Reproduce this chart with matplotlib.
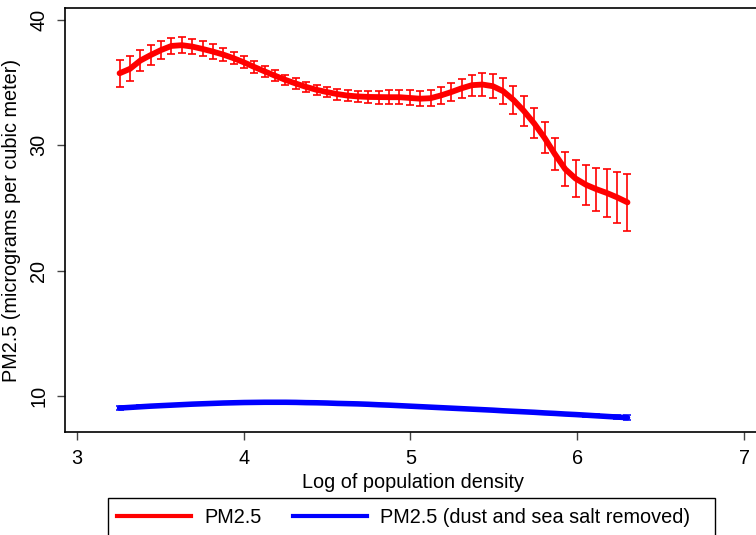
import numpy as np
import matplotlib
matplotlib.use("Agg")
import matplotlib.pyplot as plt
from matplotlib.lines import Line2D
from matplotlib.patches import Rectangle

plt.rcParams['font.family'] = ['Liberation Sans', 'DejaVu Sans']

# log population density grid
log_density = [3.257, 3.319, 3.381, 3.443, 3.505, 3.568, 3.630, 3.692, 3.754, 3.816,
               3.878, 3.940, 4.002, 4.064, 4.126, 4.189, 4.251, 4.313, 4.375, 4.437,
               4.499, 4.561, 4.623, 4.685, 4.747, 4.810, 4.872, 4.934, 4.996, 5.058,
               5.120, 5.182, 5.244, 5.306, 5.368, 5.431, 5.493, 5.555, 5.617, 5.679,
               5.741, 5.803, 5.865, 5.927, 5.989, 6.052, 6.114, 6.176, 6.238, 6.300]

pm25 = [35.75, 36.10, 36.76, 37.20, 37.60, 37.93, 37.99, 37.88, 37.69, 37.48,
        37.24, 36.95, 36.62, 36.25, 35.90, 35.55, 35.22, 34.93, 34.66, 34.43,
        34.25, 34.09, 33.97, 33.90, 33.86, 33.85, 33.84, 33.84, 33.78, 33.72,
        33.76, 33.98, 34.25, 34.55, 34.80, 34.85, 34.72, 34.32, 33.62, 32.75,
        31.75, 30.60, 29.30, 28.10, 27.35, 26.85, 26.50, 26.20, 25.85, 25.45]
pm25_err = [1.06, 1.00, 0.85, 0.77, 0.70, 0.66, 0.65, 0.63, 0.60, 0.58,
            0.55, 0.50, 0.48, 0.46, 0.44, 0.43, 0.42, 0.42, 0.42, 0.42,
            0.43, 0.44, 0.45, 0.47, 0.50, 0.52, 0.55, 0.58, 0.60, 0.62,
            0.65, 0.68, 0.72, 0.78, 0.85, 0.92, 0.98, 1.04, 1.12, 1.18,
            1.20, 1.25, 1.30, 1.38, 1.48, 1.58, 1.70, 1.88, 2.05, 2.30]

pm25_clean = [9.04, 9.09, 9.14, 9.19, 9.23, 9.27, 9.31, 9.35, 9.38, 9.41,
              9.44, 9.46, 9.48, 9.49, 9.50, 9.50, 9.50, 9.49, 9.47, 9.46,
              9.44, 9.41, 9.39, 9.37, 9.34, 9.30, 9.27, 9.23, 9.19, 9.15,
              9.11, 9.07, 9.03, 8.99, 8.95, 8.91, 8.87, 8.82, 8.78, 8.74,
              8.70, 8.65, 8.61, 8.56, 8.52, 8.47, 8.42, 8.37, 8.32, 8.27]
pm25_clean_err = [0.18, 0.14, 0.11, 0.09, 0.08, 0.07, 0.06, 0.06, 0.06, 0.06,
                  0.06, 0.06, 0.06, 0.06, 0.06, 0.06, 0.06, 0.06, 0.06, 0.06,
                  0.06, 0.06, 0.06, 0.06, 0.06, 0.06, 0.06, 0.06, 0.06, 0.06,
                  0.06, 0.06, 0.06, 0.06, 0.06, 0.07, 0.07, 0.07, 0.08, 0.08,
                  0.08, 0.09, 0.09, 0.10, 0.11, 0.12, 0.13, 0.15, 0.17, 0.20]

legend_labels = ["PM2.5", "PM2.5 (dust and sea salt removed)"]

fs = 14.3
fig = plt.figure(figsize=(7.56, 5.35), dpi=100)
ax = fig.add_axes([65 / 756, 1 - 432 / 535, 696 / 756, 424 / 535])

ax.errorbar(log_density, pm25, yerr=pm25_err, fmt='none', ecolor='red',
            elinewidth=1.2, capsize=3, capthick=1.2, zorder=2)
ax.plot(log_density, pm25, color='red', lw=4.2, solid_capstyle='round', zorder=3)
ax.errorbar(log_density, pm25_clean, yerr=pm25_clean_err, fmt='none', ecolor='blue',
            elinewidth=1.1, capsize=3, capthick=1.1, zorder=2)
ax.plot(log_density, pm25_clean, color='blue', lw=4, solid_capstyle='round', zorder=3)

ax.set_xlim(2.93, 7.10)
ax.set_ylim(7.128, 40.957)
ax.set_xticks([3, 4, 5, 6, 7])
ax.set_yticks([10, 20, 30, 40])
ax.tick_params(labelsize=fs, length=6, width=1, color='#444444', pad=6)
for lab in ax.get_yticklabels():
    lab.set_rotation(90)
    lab.set_va('center')
for s in ax.spines.values():
    s.set_linewidth(1.2)
    s.set_color('black')

ax.set_xlabel("Log of population density", fontsize=fs, labelpad=4)
ax.set_ylabel("PM2.5 (micrograms per cubic meter)", fontsize=fs, labelpad=6)

handles = [Line2D([], [], color='red', lw=3), Line2D([], [], color='blue', lw=3)]
leg = fig.legend(handles, legend_labels, loc='upper left',
                 bbox_to_anchor=(108 / 756, 1 - 499 / 535), ncol=2, fontsize=fs,
                 frameon=False, handlelength=3.75, handletextpad=0.63,
                 columnspacing=1.6, borderpad=0.45, borderaxespad=0)
# legend box, wider on the right as in the original
fig.patches.append(Rectangle((108 / 756, -10 / 535), (715 - 108) / 756, (536 - 499 + 10) / 535,
                             transform=fig.transFigure, fill=False,
                             edgecolor='black', lw=1.0))

fig.savefig("out.png", dpi=100)
